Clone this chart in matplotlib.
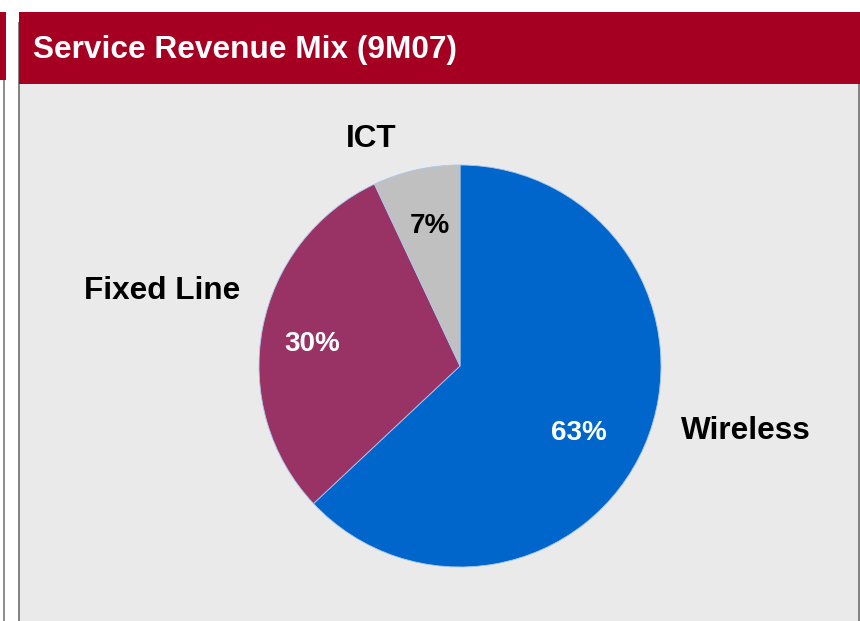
import matplotlib.pyplot as plt
from matplotlib.patches import Rectangle

plt.rcParams['font.family'] = ['Liberation Sans', 'DejaVu Sans']

segments = ['Wireless', 'Fixed Line', 'ICT']
shares = [63, 30, 7]
colors = ['#0066CC', '#993366', '#C0C0C0']
pct_colors = ['white', 'white', 'black']

W, H = 860, 621
fig = plt.figure(figsize=(W / 100, H / 100), dpi=100)
fig.patch.set_facecolor('white')


def px_rect(x0, y0, x1, y1, color, z=0):
    # rectangle in pixel coords, y from top
    fig.patches.append(Rectangle((x0 / W, 1 - y1 / H), (x1 - x0) / W, (y1 - y0) / H,
                                 transform=fig.transFigure, facecolor=color,
                                 edgecolor='none', zorder=z))


# slide decorations
px_rect(0, 12, 6, 80, '#A50021')
px_rect(3, 80, 5, H, '#8E8E8E')
px_rect(20, 84, 858, H, '#EAEAEA')
px_rect(18, 22, 20, H, '#848484')
px_rect(858, 84, 860, H, '#848484')
px_rect(19, 12, W, 84, '#A50021')

fig.text(33 / W, 1 - 50 / H, 'Service Revenue Mix (9M07)', color='white',
         fontsize=22.8, fontweight='bold', va='center', ha='left')

# pie centred at (460, 366) px, radius 201 px
cx, cy, r = 460, 366, 201
ax = fig.add_axes([(cx - r) / W, 1 - (cy + r) / H, 2 * r / W, 2 * r / H])
ax.set_zorder(5)
ax.set_facecolor('none')
wedges, _ = ax.pie(shares, colors=colors, startangle=90, counterclock=False,
                   radius=1, wedgeprops=dict(edgecolor='#A9C8EE', linewidth=0.6))
ax.set_xlim(-1, 1)
ax.set_ylim(-1, 1)
ax.set_aspect('equal')
ax.axis('off')

label_pos = [(1.42, -0.325), (-1.48, 0.375), (-0.44, 1.13)]
pct_pos = [(0.59, -0.332), (-0.735, 0.108), (-0.15, 0.695)]
for name, val, lp, pp, pc in zip(segments, shares, label_pos, pct_pos, pct_colors):
    ax.text(lp[0], lp[1], name, ha='center', va='center', fontsize=22.7,
            fontweight='bold', color='black', clip_on=False)
    ax.text(pp[0], pp[1], f'{val}%', ha='center', va='center', fontsize=20,
            fontweight='bold', color=pc, clip_on=False)

fig.savefig('out.png', dpi=100, facecolor=fig.get_facecolor())
